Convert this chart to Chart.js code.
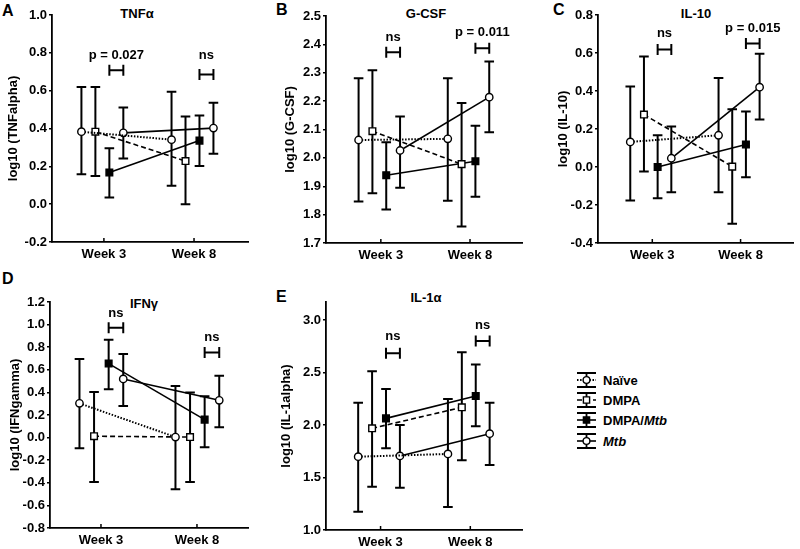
<!DOCTYPE html>
<html>
<head>
<meta charset="utf-8">
<script src="https://cdn.jsdelivr.net/npm/chart.js@4.4.0/dist/chart.umd.min.js"></script>
<style>
  body { margin: 0; background: #fff; font-family: "Liberation Sans", Arial, Helvetica, sans-serif; }
  #fig { position: relative; width: 800px; height: 549px; overflow: hidden; }
  #fig canvas { position: absolute; }
  .txt { position: absolute; font-weight: bold; color: #000; line-height: 1; white-space: nowrap; }
  .letter { font-size: 16px; }
  .title { font-size: 13px; transform: translate(-50%, -50%); }
  .leg { font-size: 13px; transform: translateY(-50%); }
</style>
</head>
<body>
<div id="fig">
  <div class="txt letter" style="left:2px;top:3px">A</div>
  <div class="txt letter" style="left:276px;top:2px">B</div>
  <div class="txt letter" style="left:553px;top:2px">C</div>
  <div class="txt letter" style="left:2px;top:271px">D</div>
  <div class="txt letter" style="left:276px;top:289px">E</div>

  <div class="txt title" style="left:137px;top:13px">TNFα</div>
  <div class="txt title" style="left:426px;top:13px">G-CSF</div>
  <div class="txt title" style="left:696px;top:13px">IL-10</div>
  <div class="txt title" style="left:144px;top:303px">IFNγ</div>
  <div class="txt title" style="left:426px;top:297px">IL-1α</div>

  <div class="txt leg" style="left:603px;top:380px">Naïve</div>
  <div class="txt leg" style="left:603px;top:400px">DMPA</div>
  <div class="txt leg" style="left:603px;top:420px">DMPA/<i>Mtb</i></div>
  <div class="txt leg" style="left:603px;top:441px"><i>Mtb</i></div>
</div>
<script>
// groups in drawing order: Naïve, DMPA, DMPA/Mtb, Mtb ; each row is [week 3, week 8]
const weekLabels = ['Week 3', 'Week 8']
const groupNames = ['Naïve', 'DMPA', 'DMPA/Mtb', 'Mtb']

const tnfMean = [[0.383, 0.341], [0.383, 0.228], [0.167, 0.336], [0.377, 0.402]]
const tnfLow  = [[0.158, 0.097], [0.149, 0.000], [0.035, 0.202], [0.241, 0.267]]
const tnfHigh = [[0.619, 0.594], [0.619, 0.464], [0.295, 0.469], [0.511, 0.536]]
const tnfTicks = [-0.2, 0.0, 0.2, 0.4, 0.6, 0.8, 1.0]
const tnfSig = ['p = 0.027', 'ns']

const gcsfMean = [[2.063, 2.067], [2.094, 1.978], [1.939, 1.988], [2.026, 2.214]]
const gcsfLow  = [[1.846, 1.849], [1.875, 1.758], [1.818, 1.863], [1.895, 2.090]]
const gcsfHigh = [[2.281, 2.281], [2.309, 2.193], [2.055, 2.113], [2.146, 2.340]]
const gcsfTicks = [1.7, 1.8, 1.9, 2.0, 2.1, 2.2, 2.3, 2.4, 2.5]
const gcsfSig = ['ns', 'p = 0.011']

const il10Mean = [[0.132, 0.167], [0.276, 0.002], [0.000, 0.118], [0.046, 0.420]]
const il10Low  = [[-0.176, -0.133], [-0.024, -0.299], [-0.165, -0.054], [-0.133, 0.250]]
const il10High = [[0.424, 0.468], [0.582, 0.304], [0.167, 0.292], [0.213, 0.596]]
const il10Ticks = [-0.4, -0.2, 0.0, 0.2, 0.4, 0.6, 0.8]
const il10Sig = ['ns', 'p = 0.015']

const ifnMean = [[0.303, 0.005], [0.012, 0.005], [0.655, 0.159], [0.519, 0.330]]
const ifnLow  = [[-0.095, -0.457], [-0.393, -0.393], [0.427, -0.086], [0.280, 0.091]]
const ifnHigh = [[0.696, 0.457], [0.404, 0.400], [0.867, 0.366], [0.740, 0.548]]
const ifnTicks = [-0.8, -0.6, -0.4, -0.2, 0.0, 0.2, 0.4, 0.6, 0.8, 1.0, 1.2]
const ifnSig = ['ns', 'ns']

const il1Mean = [[1.698, 1.724], [1.968, 2.168], [2.063, 2.276], [1.705, 1.917]]
const il1Low  = [[1.174, 1.219], [1.413, 1.663], [1.778, 1.987], [1.403, 1.619]]
const il1High = [[2.212, 2.248], [2.511, 2.692], [2.343, 2.575], [2.000, 2.212]]
const il1Ticks = [1.0, 1.5, 2.0, 2.5, 3.0]
const il1Sig = ['ns', 'ns']

const FONT = '"Liberation Sans", Arial, Helvetica, sans-serif'
const AXIS_W = 48, PAD_TOP = 10, AXIS_H = 28

// per group line / marker look
const looks = [
  { dash: [1.5, 1.6], width: 2, style: 'circle', fill: '#fff', r: 3.7 },
  { dash: [5, 3], width: 1.6, style: 'rect', fill: '#fff', r: 4.7 },
  { dash: [], width: 1.6, style: 'rect', fill: '#000', r: 4.7 },
  { dash: [], width: 1.6, style: 'circle', fill: '#fff', r: 3.7 },
]

const panels = [
  { mean: tnfMean, low: tnfLow, high: tnfHigh, ticks: tnfTicks, sig: tnfSig, yTitle: 'log10 (TNFalpha)',
    area: [52, 15, 253, 242], y: [-0.2, 1.0], x: [-0.576, 1.609], titlePad: 1.7, padR: 2,
    dodge: 0.155, shift: -0.017, sigAt: [0.708, 0.685], sigText: [0.786, 0.786] },
  { mean: gcsfMean, low: gcsfLow, high: gcsfHigh, ticks: gcsfTicks, sig: gcsfSig, yTitle: 'log10 (G-CSF)',
    area: [326, 16, 527, 243], y: [1.7, 2.5], x: [-0.615, 1.593], titlePad: 4.2, padR: 2,
    dodge: 0.155, shift: -0.017, sigAt: [2.372, 2.386], sigText: [2.425, 2.443] },
  { mean: il10Mean, low: il10Low, high: il10High, ticks: il10Ticks, sig: il10Sig, yTitle: 'log10 (IL-10)',
    area: [598, 15, 800, 243], y: [-0.4, 0.8], x: [-0.615, 1.604], titlePad: 5.5, padR: 0,
    dodge: 0.155, shift: -0.017, sigAt: [0.619, 0.650], sigText: [0.703, 0.730] },
  { mean: ifnMean, low: ifnLow, high: ifnHigh, ticks: ifnTicks, sig: ifnSig, yTitle: 'log10 (IFNgamma)',
    area: [50, 302, 253, 528], y: [-0.8, 1.2], x: [-0.531, 1.541], titlePad: 5.2, padR: 2,
    dodge: 0.152, shift: 0.004, sigAt: [0.973, 0.752], sigText: [1.097, 0.885] },
  { mean: il1Mean, low: il1Low, high: il1High, ticks: il1Ticks, sig: il1Sig, yTitle: 'log10 (IL-1alpha)',
    area: [326, 302, 527, 530], y: [1.0, 3.171], x: [-0.608, 1.586], titlePad: 0.2, padR: 2,
    dodge: 0.155, shift: -0.017, sigAt: [2.683, 2.800], sigText: [2.841, 2.952] },
]

const xPos = (p, g, w) => w + (g - 1.5) * p.dodge + p.shift

// error bars under the markers, then brackets and inner x ticks on top
const errorBars = {
  id: 'errorBars',
  beforeDatasetsDraw(chart) {
    const { ctx, scales: { x, y } } = chart
    ctx.save()
    ctx.strokeStyle = '#000'
    ctx.lineWidth = 2
    chart.data.datasets.forEach((ds) => {
      ds.data.forEach((pt, i) => {
        const px = x.getPixelForValue(pt.x)
        const t = y.getPixelForValue(ds.hi[i]), b = y.getPixelForValue(ds.lo[i])
        ctx.beginPath()
        ctx.moveTo(px, t); ctx.lineTo(px, b)
        ctx.moveTo(px - 4.8, t); ctx.lineTo(px + 4.8, t)
        ctx.moveTo(px - 4.8, b); ctx.lineTo(px + 4.8, b)
        ctx.stroke()
      })
    })
    ctx.restore()
  },
  afterDraw(chart) {
    const { ctx, scales: { x, y }, chartArea } = chart
    const p = chart.options.plugins.errorBars.panel
    ctx.save()
    ctx.strokeStyle = '#000'
    ctx.fillStyle = '#000'
    ctx.lineWidth = 1.5
    // inner tick marks at Week 3 / Week 8
    ;[0, 1].forEach((w) => {
      const px = x.getPixelForValue(w)
      ctx.beginPath(); ctx.moveTo(px, chartArea.bottom); ctx.lineTo(px, chartArea.bottom - 4); ctx.stroke()
    })
    ctx.lineWidth = 2
    ctx.font = `bold 13px ${FONT}`
    ctx.textAlign = 'center'
    ctx.textBaseline = 'middle'
    p.sig.forEach((label, w) => {
      const x1 = x.getPixelForValue(xPos(p, 2, w)), x2 = x.getPixelForValue(xPos(p, 3, w))
      const by = y.getPixelForValue(p.sigAt[w])
      ctx.beginPath()
      ctx.moveTo(x1, by); ctx.lineTo(x2, by)
      ctx.moveTo(x1, by - 5.5); ctx.lineTo(x1, by + 5.5)
      ctx.moveTo(x2, by - 5.5); ctx.lineTo(x2, by + 5.5)
      ctx.stroke()
      ctx.fillText(label, (x1 + x2) / 2, y.getPixelForValue(p.sigText[w]))
    })
    ctx.restore()
  },
}

const fig = document.getElementById('fig')

panels.forEach((p) => {
  const [l, t, r, b] = p.area
  const left = l - AXIS_W, top = t - PAD_TOP
  const cv = document.createElement('canvas')
  const w = r - left + p.padR, h = b - top + AXIS_H
  cv.style.left = left + 'px'; cv.style.top = top + 'px'
  cv.style.width = w + 'px'; cv.style.height = h + 'px'
  cv.width = w; cv.height = h
  fig.appendChild(cv)

  const datasets = p.mean.map((m, g) => ({
    label: groupNames[g],
    data: m.map((v, wk) => ({ x: xPos(p, g, wk), y: v })),
    lo: p.low[g],
    hi: p.high[g],
    borderColor: '#000',
    borderWidth: looks[g].width,
    borderDash: looks[g].dash,
    pointStyle: looks[g].style,
    pointRadius: looks[g].r,
    pointBorderWidth: 1.4,
    pointBackgroundColor: looks[g].fill,
    pointBorderColor: '#000',
    tension: 0,
    fill: false,
  }))

  new Chart(cv, {
    type: 'line',
    data: { datasets },
    plugins: [errorBars],
    options: {
      responsive: false,
      animation: false,
      events: [],
      layout: { padding: { top: PAD_TOP, right: p.padR, left: 0, bottom: 0 } },
      plugins: { legend: { display: false }, tooltip: { enabled: false }, errorBars: { panel: p } },
      scales: {
        x: {
          type: 'linear', min: p.x[0], max: p.x[1], bounds: 'data',
          afterBuildTicks: (s) => { s.ticks = [{ value: 0 }, { value: 1 }] },
          afterFit: (s) => { s.height = AXIS_H },
          grid: { display: false, drawTicks: false },
          border: { display: true, color: '#000', width: 1.8 },
          ticks: { callback: (v) => weekLabels[v], color: '#000', padding: 5, maxRotation: 0,
            font: { family: FONT, size: 13, weight: 'bold' } },
        },
        y: {
          type: 'linear', min: p.y[0], max: p.y[1], bounds: 'data',
          afterBuildTicks: (s) => { s.ticks = p.ticks.map((v) => ({ value: v })) },
          afterFit: (s) => { s.width = AXIS_W },
          grid: { drawOnChartArea: false, drawTicks: true, tickLength: 3, color: '#000', lineWidth: 1.5 },
          border: { display: true, color: '#000', width: 1.8 },
          ticks: { callback: (v) => v.toFixed(1), color: '#000', padding: 2,
            font: { family: FONT, size: 13, weight: 'bold' } },
          title: { display: true, text: p.yTitle, color: '#000', padding: { top: p.titlePad, bottom: 0 },
            font: { family: FONT, size: 13, weight: 'bold' } },
        },
      },
    },
  })
})

// legend glyphs: error bar with the group's line style and marker
const legendRows = [380, 400, 420, 441]
legendRows.forEach((cy, g) => {
  const cv = document.createElement('canvas')
  cv.width = 21; cv.height = 16
  cv.style.left = '576px'; cv.style.top = (cy - 8) + 'px'
  cv.style.width = '21px'; cv.style.height = '16px'
  fig.appendChild(cv)
  const c = cv.getContext('2d')
  const mx = 10.5, my = 8
  c.strokeStyle = '#000'
  c.lineWidth = 1.8
  c.beginPath()
  c.moveTo(mx, 1); c.lineTo(mx, 15)
  c.moveTo(1, 1); c.lineTo(20, 1)
  c.moveTo(1, 15); c.lineTo(20, 15)
  c.stroke()
  c.setLineDash(looks[g].dash)
  c.lineWidth = looks[g].width
  c.beginPath(); c.moveTo(1, my); c.lineTo(20, my); c.stroke()
  c.setLineDash([])
  c.lineWidth = 1.4
  c.fillStyle = looks[g].fill
  c.beginPath()
  if (looks[g].style === 'circle') c.arc(mx, my, 3.4, 0, Math.PI * 2)
  else c.rect(mx - 3.1, my - 3.1, 6.2, 6.2)
  c.fill(); c.stroke()
})
</script>
</body>
</html>
